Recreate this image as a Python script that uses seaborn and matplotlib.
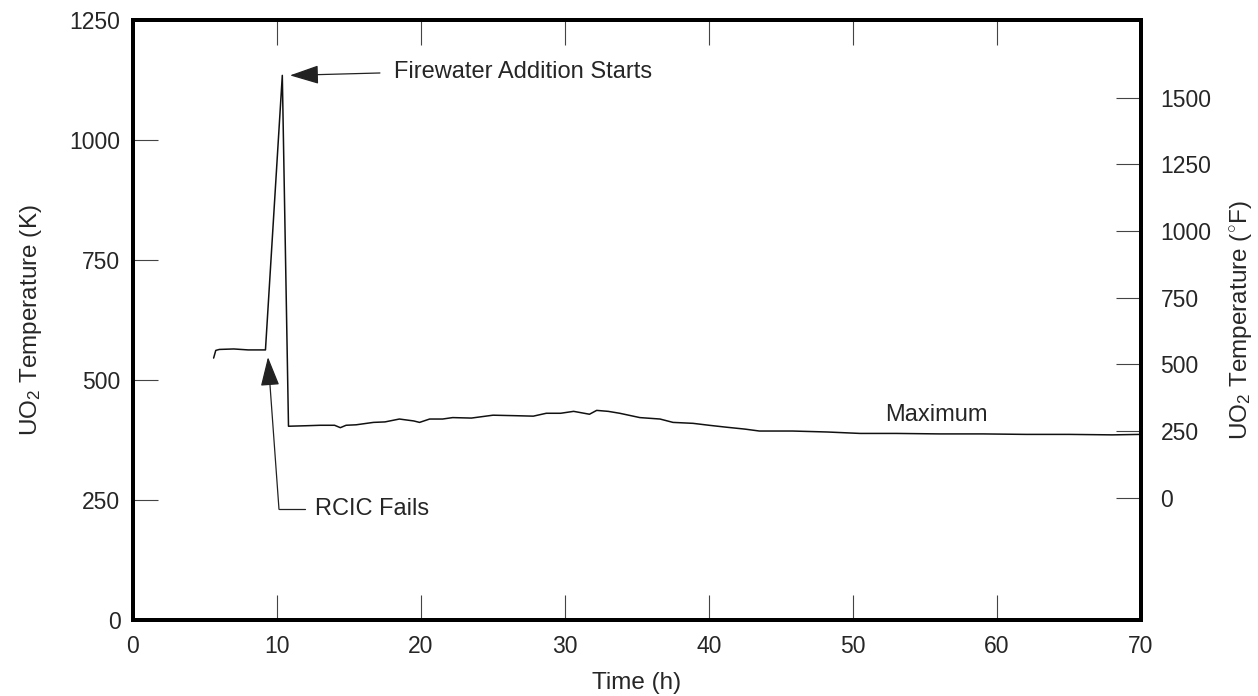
import numpy as np
import pandas as pd
import matplotlib
matplotlib.use("Agg")
import matplotlib.pyplot as plt
import seaborn as sns

# ── data (time in h, maximum UO2 temperature in K) ──
time_h = [5.6, 5.75, 6.0, 7.0, 8.0, 9.2, 10.37, 10.8, 12.0, 13.0, 14.0, 14.4,
          14.8, 15.5, 16.7, 17.5, 18.5, 19.5, 19.9, 20.6, 21.5, 22.2, 23.5,
          25.0, 26.5, 27.8, 28.7, 29.7, 30.6, 31.7, 32.2, 33.0, 33.8, 35.2,
          36.6, 37.5, 38.9, 40.0, 41.2, 42.5, 43.5, 45.8, 48.2, 50.5, 53.0,
          56.0, 59.0, 62.0, 65.0, 68.0, 70.0]
temp_k = [546, 562, 564, 565, 563, 563, 1135, 404, 405, 406, 406, 401,
          406, 407, 412, 413, 419, 415, 412, 419, 419, 422, 421,
          427, 426, 425, 431, 431, 435, 429, 437, 435, 431, 422,
          419, 412, 410, 406, 402, 398, 394, 394, 392, 389, 389,
          388, 388, 387, 387, 386, 387]

x_ticks = [0, 10, 20, 30, 40, 50, 60, 70]
k_ticks = [0, 250, 500, 750, 1000, 1250]
f_ticks = [0, 250, 500, 750, 1000, 1250, 1500]


def k_to_f(k):
    return (k - 273.15) * 1.8 + 32.0


def main():
    sns.set_style("ticks")
    plt.rcParams["font.family"] = ["Liberation Sans", "DejaVu Sans"]
    plt.rcParams["mathtext.fontset"] = "custom"
    plt.rcParams["mathtext.rm"] = "Liberation Sans"
    plt.rcParams["mathtext.it"] = "Liberation Sans:italic"

    df = pd.DataFrame({"time": time_h, "temp": temp_k})

    fig = plt.figure(figsize=(12.58, 6.96), dpi=100)
    ax = fig.add_axes([0.1057, 0.109, 0.8013, 0.862])

    sns.lineplot(data=df, x="time", y="temp", ax=ax, color="#111111",
                 linewidth=1.1, sort=False)

    tick_fs = 16.5
    lab_fs = 17.5
    ann_fs = 17

    ax.set_xlim(0, 70)
    ax.set_ylim(0, 1250)
    ax.set_xticks(x_ticks)
    ax.set_yticks(k_ticks)
    ax.tick_params(axis="x", direction="in", length=18, width=0.8,
                   top=True, labelsize=tick_fs, pad=11, color="#444444")
    ax.tick_params(axis="y", direction="in", length=18, width=0.8,
                   right=False, labelsize=tick_fs, pad=9, color="#444444")
    ax.set_xlabel("Time (h)", fontsize=lab_fs, labelpad=10)
    ax.set_ylabel("UO$_2$ Temperature (K)", fontsize=lab_fs, labelpad=18)

    ax2 = ax.twinx()
    ax2.set_ylim(k_to_f(0), k_to_f(1250))
    ax2.set_yticks(f_ticks)
    ax2.tick_params(axis="y", direction="in", length=18, width=0.8,
                    labelsize=tick_fs, pad=14, color="#444444")
    ax2.set_ylabel("UO$_2$ Temperature ($^{\\circ}$F)", fontsize=lab_fs,
                   labelpad=12)

    for a in (ax, ax2):
        for s in a.spines.values():
            s.set_linewidth(2.8)
            s.set_color("black")

    # ── annotations ──
    arrow = dict(arrowstyle="-|>,head_length=1.3,head_width=0.42",
                 color="#222222", lw=0.9, mutation_scale=14,
                 shrinkA=0, shrinkB=0)
    ax.annotate("", xy=(10.9, 1135), xytext=(17.15, 1140), arrowprops=arrow)
    ax.text(18.1, 1142, "Firewater Addition Starts", fontsize=ann_fs,
            va="center", ha="left")

    ax.annotate("", xy=(9.375, 548), xytext=(10.14, 231), arrowprops=arrow)
    ax.plot([10.14, 11.94], [231, 231], color="#222222", lw=0.9)
    ax.text(12.64, 231, "RCIC Fails", fontsize=ann_fs, va="center",
            ha="left")

    ax.text(55.8, 427, "Maximum", fontsize=ann_fs, va="center", ha="center")

    fig.savefig("out.png", dpi=100)


if __name__ == "__main__":
    main()
